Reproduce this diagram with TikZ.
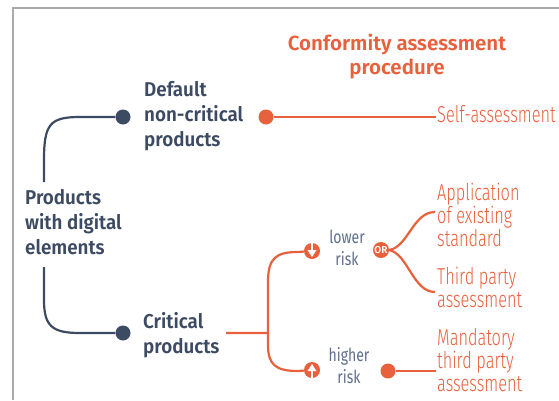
\documentclass[tikz,border=0pt]{standalone}
\usepackage{fontspec}
\usetikzlibrary{calc}
\setmainfont{Fira Sans}
\newfontfamily\hdfont{Fira Sans}[UprightFont=* SemiBold, FakeStretch=0.94]
\newfontfamily\ttfnt{Fira Sans}[UprightFont=* SemiBold]
\newfontfamily\cdfont{Fira Sans}[UprightFont=* Light, FakeStretch=0.71]
\newfontfamily\rkfont{Fira Sans}[FakeStretch=0.78]
\definecolor{orng}{HTML}{E8603C}
\definecolor{dkblue}{HTML}{3C4A62}
\definecolor{rkgray}{HTML}{5F6E8C}
\definecolor{frame}{HTML}{AAAAAA}
\tikzset{
  dk/.style={font=\hdfont\fontsize{20}{25}\selectfont, text=dkblue, align=left, inner sep=0pt},
  ttl/.style={font=\ttfnt\fontsize{20.5}{24}\selectfont, text=orng, align=center, inner sep=0pt},
  cd/.style={font=\cdfont\fontsize{23}{23}\selectfont, text=orng, align=left, inner sep=0pt},
  rk/.style={font=\rkfont\fontsize{18}{22}\selectfont, text=rkgray, align=center, inner sep=0pt},
  ddot/.style={circle, fill=dkblue, minimum size=15pt, inner sep=0pt},
  odot/.style={circle, fill=orng, minimum size=15pt, inner sep=0pt},
  ocirc/.style={circle, fill=orng, minimum size=16pt, inner sep=0pt},
  dkline/.style={draw=dkblue, line width=2.2pt},
  orline/.style={draw=orng, line width=2.2pt},
}
\begin{document}
\begin{tikzpicture}[x=1pt,y=-1pt]
\useasboundingbox (0,0) rectangle (559,400);
\draw[frame, line width=1.6pt] (13,400) -- (13,8) -- (559,8);

% texts (base anchor = baseline of last line)
\node[ttl, anchor=base] (title) at (397,74) {Conformity assessment\\procedure};
\node[dk, anchor=base west] (def) at (144,146) {Default\\non-critical\\products};
\node[dk, anchor=base west] (pwd) at (25,254) {Products\\with digital\\elements};
\node[dk, anchor=base west] (crit) at (143,353) {Critical\\products};
\node[cd, anchor=base west] (self) at (437,122) {Self-assessment};
\node[cd, anchor=base west] (appl) at (437,246) {Application\\of existing\\standard};
\node[cd, anchor=base west] (third) at (437,307) {Third party\\assessment};
\node[cd, anchor=base west] (mand) at (437,391) {Mandatory\\third party\\assessment};
\node[rk, anchor=base] (lower) at (347,265) {lower\\risk};
\node[rk, anchor=base] (higher) at (349,383) {higher\\risk};

% dots and icons
\node[ddot] (d1) at (123,117) {};
\node[ddot] (d2) at (123,333) {};
\node[odot] (o1) at (266,117) {};
\node[odot] (o2) at (388,371) {};
\node[ocirc] (dn) at (312,251) {};
\node[ocirc] (up) at (312,370) {};
\node[ocirc, font=\ttfnt\fontsize{10}{10}\selectfont, text=white] (or) at (381,250) {OR};

% arrow glyphs
\draw[white, line width=1.8pt] (dn.north) -- (dn.center);
\fill[white] ($(dn.center)+(-4.5,-1)$) -- ($(dn.center)+(4.5,-1)$) -- ($(dn.center)+(0,6)$) -- cycle;
\draw[white, line width=1.8pt] (up.south) -- (up.center);
\fill[white] ($(up.center)+(-4.5,1)$) -- ($(up.center)+(4.5,1)$) -- ($(up.center)+(0,-6)$) -- cycle;

% coordinates
\coordinate (c1) at (44,182);
\coordinate (c2) at (44,267);
\coordinate (sa) at (436,117);
\coordinate (cr) at (226,333);
\coordinate (jn) at (268,333);
\coordinate (ap) at (435,212);
\coordinate (tp) at (435,292);
\coordinate (mt) at (436,371);

% connectors
\draw[dkline] (c1) -- (44,160) .. controls (44,124) and (50,117) .. (80,117) -- (d1);
\draw[dkline] (c2) -- (44,300) .. controls (44,326) and (52,333) .. (80,333) -- (d2);
\draw[orline] (o1) -- (sa);
\draw[orline] (cr) -- (jn) -- (268,282) .. controls (268,258) and (276,252) .. (298,252) -- (dn);
\draw[orline] (jn) -- (268,345) .. controls (268,365) and (276,371) .. (298,371) -- (up);
\draw[orline] (or.east) .. controls (408,247) and (413,212) .. (ap);
\draw[orline] (or.east) .. controls (408,254) and (413,292) .. (tp);
\draw[orline] (o2) -- (mt);
\end{tikzpicture}
\end{document}
